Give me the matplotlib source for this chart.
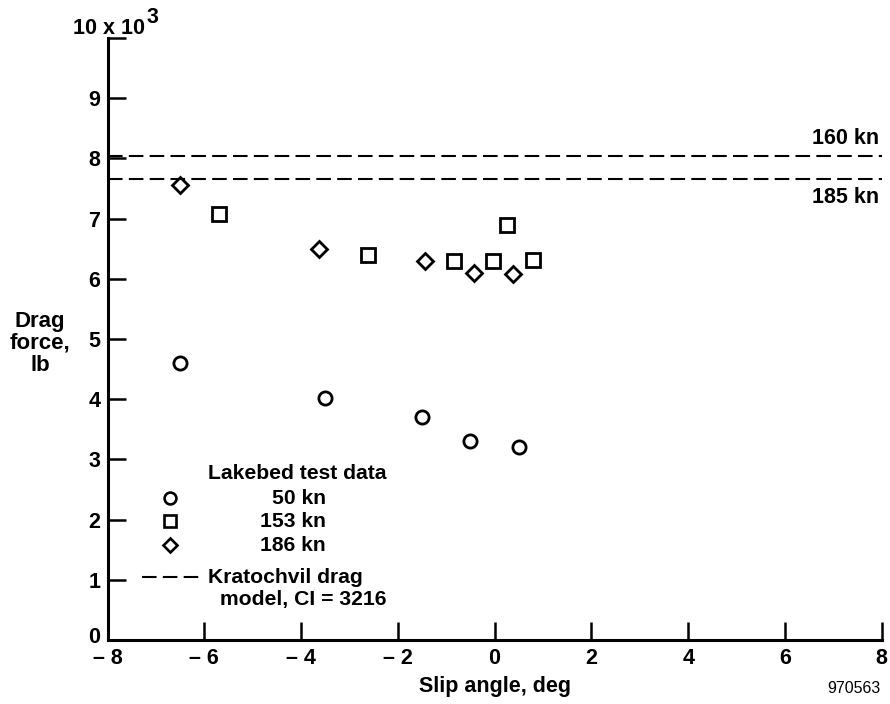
import matplotlib
matplotlib.use("Agg")
import matplotlib.pyplot as plt
from matplotlib.lines import Line2D
from matplotlib.transforms import ScaledTranslation

plt.rcParams['font.family'] = ['Liberation Sans', 'DejaVu Sans']
plt.rcParams['font.weight'] = 'bold'

# Lakebed test data: slip angle (deg) vs drag force (x 10^3 lb)
slip_50kn = [-6.5, -3.5, -1.5, -0.5, 0.5]
drag_50kn = [4.6, 4.02, 3.7, 3.3, 3.2]

slip_153kn = [-5.7, -2.62, -0.84, -0.04, 0.26, 0.79]
drag_153kn = [7.07, 6.4, 6.3, 6.3, 6.9, 6.31]

slip_186kn = [-6.51, -3.62, -1.43, -0.42, 0.37]
drag_186kn = [7.56, 6.49, 6.29, 6.09, 6.08]

# Kratochvil drag model, CI = 3216
model_speeds = ["160 kn", "185 kn"]
model_drag = [8.04, 7.65]

x_ticks = [-8, -6, -4, -2, 0, 2, 4, 6, 8]
x_tick_labels = ["\u2013 8", "\u2013 6", "\u2013 4", "\u2013 2", "0", "2", "4", "6", "8"]
y_ticks = [0, 1, 2, 3, 4, 5, 6, 7, 8, 9, 10]
y_tick_labels = ["0", "1", "2", "3", "4", "5", "6", "7", "8", "9", ""]

FS = 15.5

fig = plt.figure(figsize=(8.9, 7.04), dpi=100)
ax = fig.add_axes([0.1208, 0.0909, 0.8699, 0.8551])

ax.set_xlim(-8, 8)
ax.set_ylim(0, 10)

for side in ("top", "right"):
    ax.spines[side].set_visible(False)
for side in ("left", "bottom"):
    ax.spines[side].set_linewidth(2.2)

ax.set_xticks(x_ticks)
ax.set_xticklabels(x_tick_labels)
ax.set_yticks(y_ticks)
ax.set_yticklabels(y_tick_labels)
ax.tick_params(direction="in", length=13, width=1.8, labelsize=FS, pad=5)
ax.tick_params(axis="x", pad=6)
for lbl in ax.get_xticklabels() + ax.get_yticklabels():
    lbl.set_fontweight("bold")

# lift the "0" on the y axis a little so it clears the x-axis labels
zero_lbl = ax.get_yticklabels()[0]
zero_lbl.set_transform(zero_lbl.get_transform()
                       + ScaledTranslation(0, 5 / 100, fig.dpi_scale_trans))

mk = dict(linestyle="none", markerfacecolor="white", markeredgecolor="black",
          markeredgewidth=2.0, clip_on=False)
ax.plot(slip_50kn, drag_50kn, marker="o", markersize=9.5, **mk)
ax.plot(slip_153kn, drag_153kn, marker="s", markersize=9.5, **mk)
ax.plot(slip_186kn, drag_186kn, marker="D", markersize=8, **mk)

for yv in model_drag:
    ax.plot([-8, 8], [yv, yv], color="black", linewidth=1.5,
            dashes=(7, 3), clip_on=False)

ax.text(7.95, model_drag[0] + 0.12, model_speeds[0], ha="right", va="bottom",
        fontsize=FS, fontweight="bold")
ax.text(7.95, model_drag[1] - 0.12, model_speeds[1], ha="right", va="top",
        fontsize=FS, fontweight="bold")

# axis titles
ax.text(0.049, 1.016, "10 x 10", transform=ax.transAxes, ha="right",
        va="center", fontsize=FS, fontweight="bold")
ax.text(0.050, 1.034, "3", transform=ax.transAxes, ha="left",
        va="center", fontsize=FS, fontweight="bold")
ax.text(-0.087, 0.493, "Drag\nforce,\nlb", transform=ax.transAxes, ha="center",
        va="center", fontsize=16, fontweight="bold", linespacing=1.05)
ax.set_xlabel("Slip angle, deg", fontsize=FS, fontweight="bold", labelpad=5)

fig.text(0.989, 0.012, "970563", ha="right", va="bottom", fontsize=11.5,
         fontweight="normal")

# legend block
tr = ax.transAxes
def px2ax(px, py):
    return ((px - 107.5) / 774.2, (640 - py) / 602.0)

lx, ly = px2ax(297, 473)
ax.text(lx, ly, "Lakebed test data", transform=tr, ha="center", va="center",
        fontsize=15.2, fontweight="bold")
legend_rows = [("o", 8.5, "50 kn", 498), ("s", 8.5, "153 kn", 521), ("D", 7.2, "186 kn", 545)]
for marker, size, text, py in legend_rows:
    mx, my = px2ax(170, py)
    ax.add_line(Line2D([mx], [my], transform=tr, marker=marker, markersize=size,
                       linestyle="none", markerfacecolor="white",
                       markeredgecolor="black", markeredgewidth=1.9, clip_on=False))
    tx, ty = px2ax(326, py)
    ax.text(tx, ty, text, transform=tr, ha="right", va="center",
            fontsize=15.2, fontweight="bold")

x0, yl = px2ax(142, 577)
x1, _ = px2ax(201, 577)
ax.add_line(Line2D([x0, x1], [yl, yl], transform=tr, color="black",
                   linewidth=1.5, dashes=(7, 3), clip_on=False))
tx, _ = px2ax(208, 577)
ax.text(tx, yl, "Kratochvil drag", transform=tr, ha="left", va="center",
        fontsize=15.2, fontweight="bold")
tx2, ty2 = px2ax(220, 599)
ax.text(tx2, ty2, "model, CI = 3216", transform=tr, ha="left", va="center",
        fontsize=15.2, fontweight="bold")

fig.savefig("out.png", dpi=100)
